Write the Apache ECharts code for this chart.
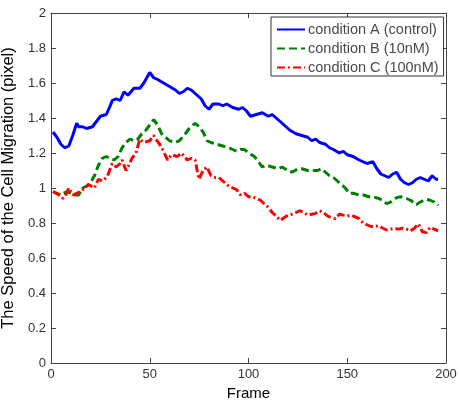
<!DOCTYPE html>
<html>
<head>
<meta charset="utf-8">
<script src="https://cdn.jsdelivr.net/npm/echarts@6/dist/echarts.min.js"></script>
<style>html,body{margin:0;padding:0;background:#fff;}#c{width:459px;height:405px;}</style>
</head>
<body>
<div id="c"></div>
<script>
const seriesNames = ['condition A (control)', 'condition B (10nM)', 'condition C (100nM)'];
const yTicks = ['0', '0.2', '0.4', '0.6', '0.8', '1', '1.2', '1.4', '1.6', '1.8', '2'];

const framesA = [1,3,5,7,9,11,13,14,16,18,21,23,25,28,30,31,33,35,37,39,40,42,43,45,47,49,50,52,54,57,60,63,65,67,69,71,74,76,78,80,82,85,87,89,92,95,97,99,101,102,104,107,110,112,114,117,119,121,124,127,130,132,134,136,139,141,143,146,148,150,153,156,158,160,163,165,167,169,171,173,175,177,179,181,183,185,187,189,191,193,195,196];
const speedA = [1.32,1.29,1.25,1.23,1.24,1.30,1.37,1.35,1.35,1.34,1.35,1.38,1.41,1.42,1.47,1.50,1.51,1.50,1.55,1.53,1.54,1.57,1.58,1.57,1.60,1.64,1.66,1.63,1.62,1.60,1.58,1.56,1.54,1.55,1.57,1.56,1.53,1.51,1.47,1.45,1.48,1.48,1.47,1.48,1.46,1.45,1.46,1.44,1.41,1.40,1.42,1.43,1.41,1.42,1.40,1.37,1.35,1.33,1.31,1.30,1.29,1.27,1.28,1.26,1.25,1.23,1.22,1.20,1.21,1.19,1.18,1.16,1.15,1.14,1.15,1.11,1.08,1.07,1.06,1.08,1.09,1.05,1.03,1.02,1.03,1.05,1.06,1.05,1.04,1.07,1.05,1.05];

const framesB = [1,3,5,8,10,12,14,16,18,20,22,24,26,28,30,32,34,36,38,40,42,44,46,48,50,52,54,56,58,60,63,65,68,70,73,75,77,79,81,84,87,90,92,94,96,98,100,103,105,107,109,112,115,117,120,122,125,127,130,132,135,137,139,141,143,145,147,149,151,153,156,158,161,163,166,168,170,172,175,177,180,182,185,187,190,192,194,196];
const speedB = [0.98,0.97,0.96,0.98,0.97,0.96,0.96,1.00,1.01,1.03,1.07,1.13,1.17,1.18,1.17,1.16,1.18,1.23,1.26,1.28,1.27,1.28,1.31,1.33,1.36,1.39,1.36,1.31,1.29,1.27,1.26,1.27,1.31,1.34,1.37,1.35,1.32,1.27,1.26,1.25,1.24,1.23,1.22,1.21,1.22,1.22,1.20,1.18,1.15,1.12,1.13,1.12,1.11,1.12,1.10,1.09,1.11,1.11,1.10,1.10,1.10,1.11,1.09,1.07,1.06,1.04,1.02,1.00,0.97,0.97,0.96,0.96,0.95,0.95,0.94,0.93,0.91,0.92,0.945,0.95,0.94,0.93,0.905,0.92,0.935,0.93,0.92,0.90];

const framesC = [1,2,4,6,8,9,11,13,15,17,19,20,22,24,26,28,29,31,33,35,36,38,39,41,43,45,47,48,50,52,53,55,57,59,61,62,64,66,67,69,71,73,74,75,77,79,81,83,85,88,90,92,94,96,98,100,102,104,106,108,110,112,114,116,118,120,122,124,126,128,130,132,134,136,138,140,142,144,146,148,150,152,154,156,158,160,162,164,166,168,170,172,174,176,178,180,182,184,186,188,190,192,194,196];
const speedC = [0.98,0.99,0.96,0.94,0.97,1.00,0.96,0.97,0.98,1.00,1.02,1.03,1.00,1.05,1.04,1.06,1.08,1.14,1.12,1.14,1.16,1.10,1.12,1.17,1.20,1.28,1.26,1.25,1.27,1.30,1.28,1.25,1.21,1.16,1.19,1.20,1.18,1.20,1.21,1.16,1.17,1.16,1.10,1.05,1.10,1.12,1.07,1.06,1.06,1.03,1.01,1.00,0.99,0.96,0.97,0.95,0.95,0.94,0.93,0.91,0.89,0.86,0.84,0.815,0.83,0.845,0.85,0.86,0.87,0.86,0.845,0.85,0.855,0.87,0.86,0.84,0.83,0.825,0.85,0.845,0.84,0.845,0.835,0.825,0.80,0.79,0.78,0.78,0.785,0.77,0.76,0.765,0.77,0.765,0.77,0.765,0.755,0.77,0.795,0.75,0.745,0.775,0.765,0.755];

const zip = (xs, ys) => xs.map((x, i) => [x, ys[i]]);
const FONT = 'Liberation Sans';
const axisCol = '#444';

const chart = echarts.init(document.getElementById('c'), null, {renderer: 'canvas'});
const baseX = {
  type: 'value', min: 0, max: 200, interval: 50,
  axisLine: {show: true, onZero: false, lineStyle: {color: axisCol, width: 1}},
  axisTick: {show: true, inside: true, length: 5, lineStyle: {color: axisCol}},
  splitLine: {show: false}
};
const baseY = {
  type: 'value', min: 0, max: 2, interval: 0.2,
  axisLine: {show: true, onZero: false, lineStyle: {color: axisCol, width: 1}},
  axisTick: {show: true, inside: true, length: 5, lineStyle: {color: axisCol}},
  splitLine: {show: false}
};
chart.setOption({
  animation: false,
  backgroundColor: '#fff',
  grid: {left: 51, top: 13, width: 395, height: 350, containLabel: false, outerBoundsMode: 'none'},
  xAxis: [
    Object.assign({}, baseX, {
      position: 'bottom',
      name: 'Frame', nameLocation: 'middle', nameGap: 20,
      nameTextStyle: {fontFamily: FONT, fontSize: 15, color: '#000'},
      axisLabel: {fontFamily: FONT, fontSize: 13, color: '#333', margin: 5}
    }),
    Object.assign({}, baseX, {position: 'top', axisLabel: {show: false}})
  ],
  yAxis: [
    Object.assign({}, baseY, {
      position: 'left',
      name: 'The Speed of the Cell Migration (pixel)', nameLocation: 'middle', nameGap: 26,
      nameTextStyle: {fontFamily: FONT, fontSize: 16.5, color: '#000'},
      axisLabel: {fontFamily: FONT, fontSize: 13, color: '#333', margin: 5,
        formatter: (v) => yTicks[Math.round(v / 0.2)]}
    }),
    Object.assign({}, baseY, {position: 'right', axisLabel: {show: false}})
  ],
  legend: {
    left: 271, top: 17, orient: 'vertical',
    data: seriesNames,
    itemWidth: 28, itemHeight: 14, itemGap: 4,
    padding: [5, 5, 1, 5],
    itemStyle: {opacity: 0},
    backgroundColor: '#fff', borderColor: '#333', borderWidth: 1, borderRadius: 0,
    textStyle: {fontFamily: FONT, fontSize: 14.5, color: '#4a4a4a', padding: [0,0,0,-2]}
  },
  series: [
    {name: seriesNames[0], type: 'line', xAxisIndex: 0, yAxisIndex: 0, data: zip(framesA, speedA),
      showSymbol: false, symbol: 'none', color: '#0000ff',
      lineStyle: {color: '#0000ff', width: 3, type: 'solid'}},
    {name: seriesNames[1], type: 'line', xAxisIndex: 0, yAxisIndex: 0, data: zip(framesB, speedB),
      showSymbol: false, symbol: 'none', color: '#008000',
      lineStyle: {color: '#008000', width: 3, type: [8, 4]}},
    {name: seriesNames[2], type: 'line', xAxisIndex: 0, yAxisIndex: 0, data: zip(framesC, speedC),
      showSymbol: false, symbol: 'none', color: '#ff0000',
      lineStyle: {color: '#ff0000', width: 3, type: [8, 3, 2, 3]}}
  ]
});
</script>
</body>
</html>
